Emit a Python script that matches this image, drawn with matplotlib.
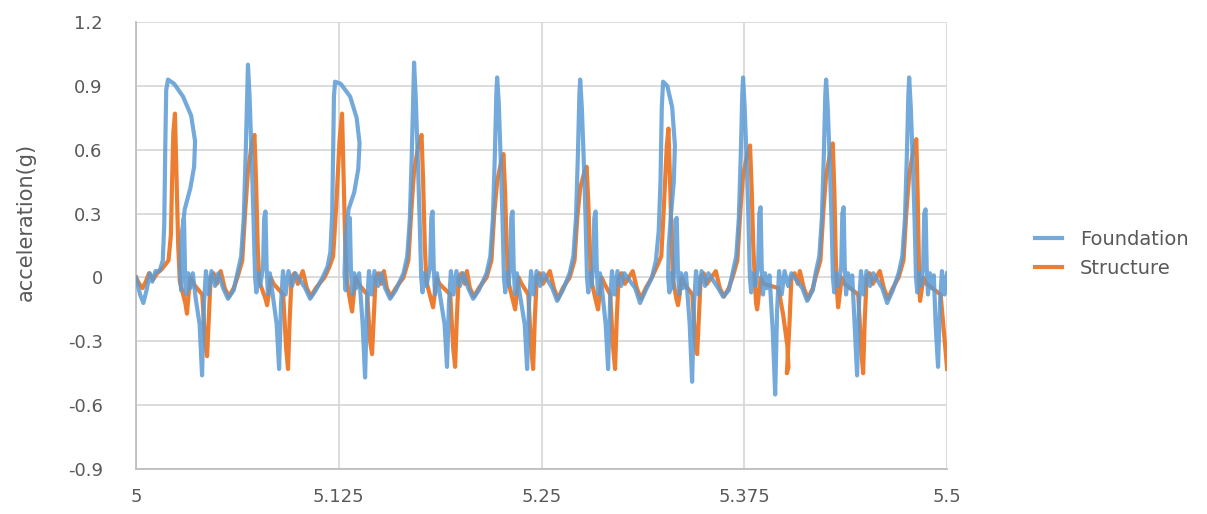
import matplotlib.pyplot as plt

# time (s), acceleration (g)
foundation = [
    (5.0000, 0.00), (5.0025, -0.08), (5.0045, -0.12), (5.0065, -0.06), (5.0085, 0.02), (5.0100, -0.02),
    (5.0120, 0.03), (5.0145, 0.03), (5.0165, 0.08), (5.0174, 0.25), (5.0180, 0.60), (5.0186, 0.88),
    (5.0197, 0.93), (5.0235, 0.91), (5.0290, 0.85), (5.0340, 0.76), (5.0364, 0.64), (5.0358, 0.52),
    (5.0335, 0.42), (5.0300, 0.32), (5.0280, 0.18), (5.0272, 0.02),
    (5.0278, -0.06), (5.0284, 0.05), (5.0290, 0.27), (5.0296, 0.27), (5.0302, 0.03), (5.0310, -0.08),
    (5.0322, 0.02), (5.0334, -0.05), (5.0350, 0.02), (5.0368, -0.10),
    (5.0392, -0.22), (5.0407, -0.46), (5.0419, -0.12), (5.0431, 0.03), (5.0447, -0.08), (5.0465, 0.03),
    (5.0487, -0.04), (5.0507, 0.02), (5.0537, -0.05), (5.0567, -0.10), (5.0602, -0.06),
    (5.0625, 0.02), (5.0648, 0.10), (5.0664, 0.28), (5.0676, 0.58), (5.0685, 0.86),
    (5.0690, 1.00), (5.0700, 0.85), (5.0712, 0.58), (5.0724, 0.28), (5.0734, 0.00), (5.0742, -0.07),
    (5.0752, 0.02), (5.0765, -0.04),
    (5.0783, 0.05), (5.0790, 0.28), (5.0798, 0.31), (5.0805, 0.05), (5.0813, -0.08), (5.0825, 0.02),
    (5.0837, -0.05),
    (5.0867, -0.22), (5.0882, -0.43), (5.0894, -0.12), (5.0906, 0.03), (5.0922, -0.08), (5.0940, 0.03),
    (5.0962, -0.04), (5.0982, 0.02), (5.1043, -0.05), (5.1073, -0.10), (5.1108, -0.06),
    (5.1150, 0.00), (5.1180, 0.05), (5.1198, 0.12), (5.1209, 0.30), (5.1215, 0.58), (5.1220, 0.85),
    (5.1227, 0.92), (5.1262, 0.91), (5.1320, 0.85), (5.1360, 0.75), (5.1378, 0.63), (5.1370, 0.51),
    (5.1345, 0.40), (5.1310, 0.32), (5.1292, 0.18), (5.1285, 0.02),
    (5.1292, -0.06), (5.1300, 0.05), (5.1310, 0.27), (5.1318, 0.28), (5.1325, 0.03), (5.1333, -0.08),
    (5.1345, 0.02), (5.1357, -0.05), (5.1375, 0.02),
    (5.1397, -0.22), (5.1412, -0.47), (5.1424, -0.12), (5.1436, 0.03), (5.1452, -0.08), (5.1470, 0.03),
    (5.1492, -0.04), (5.1512, 0.02), (5.1536, -0.05), (5.1566, -0.10), (5.1601, -0.06),
    (5.1649, 0.02), (5.1672, 0.10), (5.1688, 0.28), (5.1700, 0.58), (5.1709, 0.86),
    (5.1714, 1.01), (5.1724, 0.85), (5.1736, 0.58), (5.1748, 0.28), (5.1758, 0.00), (5.1766, -0.07),
    (5.1776, 0.02), (5.1790, -0.04),
    (5.1813, 0.05), (5.1820, 0.28), (5.1828, 0.31), (5.1835, 0.05), (5.1843, -0.08), (5.1855, 0.02),
    (5.1867, -0.05),
    (5.1902, -0.22), (5.1917, -0.42), (5.1929, -0.12), (5.1941, 0.03), (5.1957, -0.08), (5.1975, 0.03),
    (5.1997, -0.04), (5.2017, 0.02), (5.2048, -0.05), (5.2078, -0.10), (5.2113, -0.06),
    (5.2161, 0.02), (5.2184, 0.10), (5.2200, 0.28), (5.2212, 0.58), (5.2221, 0.86),
    (5.2226, 0.94), (5.2236, 0.82), (5.2248, 0.55), (5.2259, 0.28), (5.2268, 0.00), (5.2276, -0.07),
    (5.2286, 0.02), (5.2296, -0.04),
    (5.2306, 0.05), (5.2313, 0.28), (5.2321, 0.31), (5.2328, 0.05), (5.2336, -0.08), (5.2348, 0.02),
    (5.2360, -0.05),
    (5.2396, -0.22), (5.2411, -0.43), (5.2423, -0.12), (5.2435, 0.03), (5.2451, -0.08), (5.2469, 0.03),
    (5.2491, -0.04), (5.2511, 0.02), (5.2566, -0.05), (5.2596, -0.11), (5.2631, -0.06),
    (5.2673, 0.02), (5.2696, 0.10), (5.2712, 0.28), (5.2724, 0.58), (5.2733, 0.86),
    (5.2738, 0.93), (5.2748, 0.80), (5.2760, 0.55), (5.2771, 0.28), (5.2780, 0.00), (5.2788, -0.07),
    (5.2798, 0.02), (5.2808, -0.04),
    (5.2818, 0.05), (5.2825, 0.28), (5.2833, 0.31), (5.2840, 0.05), (5.2848, -0.08), (5.2860, 0.02),
    (5.2872, -0.05),
    (5.2895, -0.22), (5.2910, -0.43), (5.2922, -0.12), (5.2934, 0.03), (5.2950, -0.08), (5.2968, 0.03),
    (5.2990, -0.04), (5.3010, 0.02), (5.3077, -0.05), (5.3107, -0.12), (5.3142, -0.06),
    (5.3180, 0.00), (5.3205, 0.08), (5.3222, 0.22), (5.3233, 0.45), (5.3241, 0.80),
    (5.3249, 0.92), (5.3275, 0.90), (5.3305, 0.80), (5.3322, 0.62), (5.3315, 0.45), (5.3298, 0.30),
    (5.3284, 0.15), (5.3280, 0.00),
    (5.3288, -0.07), (5.3300, 0.02), (5.3310, -0.05), (5.3318, 0.05), (5.3325, 0.27), (5.3333, 0.28),
    (5.3340, 0.05), (5.3348, -0.08), (5.3360, 0.02), (5.3372, -0.05), (5.3390, 0.02),
    (5.3413, -0.22), (5.3428, -0.49), (5.3440, -0.12), (5.3452, 0.03), (5.3468, -0.08), (5.3486, 0.03),
    (5.3508, -0.04), (5.3528, 0.02), (5.3589, -0.05), (5.3619, -0.09), (5.3654, -0.06),
    (5.3677, 0.02), (5.3700, 0.10), (5.3716, 0.28), (5.3728, 0.58), (5.3737, 0.86),
    (5.3742, 0.94), (5.3752, 0.80), (5.3764, 0.55), (5.3775, 0.28), (5.3784, 0.00), (5.3792, -0.07),
    (5.3802, 0.02), (5.3818, -0.04),
    (5.3835, 0.05), (5.3842, 0.30), (5.3850, 0.33), (5.3857, 0.05), (5.3865, -0.08), (5.3877, 0.02),
    (5.3889, -0.05), (5.3905, 0.01),
    (5.3925, -0.25), (5.3940, -0.55), (5.3952, -0.15), (5.3964, 0.03), (5.3980, -0.08), (5.3998, 0.03),
    (5.4020, -0.04), (5.4040, 0.02), (5.4107, -0.05), (5.4137, -0.11), (5.4172, -0.06),
    (5.4189, 0.02), (5.4212, 0.10), (5.4228, 0.28), (5.4240, 0.58), (5.4249, 0.86),
    (5.4254, 0.93), (5.4264, 0.80), (5.4276, 0.55), (5.4287, 0.28), (5.4296, 0.00), (5.4304, -0.07),
    (5.4314, 0.02), (5.4330, -0.04),
    (5.4347, 0.05), (5.4354, 0.30), (5.4362, 0.33), (5.4369, 0.05), (5.4377, -0.08), (5.4389, 0.02),
    (5.4401, -0.05), (5.4415, 0.01),
    (5.4430, -0.22), (5.4445, -0.46), (5.4457, -0.12), (5.4469, 0.03), (5.4485, -0.08), (5.4503, 0.03),
    (5.4525, -0.04), (5.4545, 0.02), (5.4600, -0.05), (5.4630, -0.12), (5.4665, -0.06),
    (5.4701, 0.02), (5.4724, 0.10), (5.4740, 0.28), (5.4752, 0.58), (5.4761, 0.86),
    (5.4766, 0.94), (5.4776, 0.80), (5.4788, 0.55), (5.4799, 0.28), (5.4808, 0.00), (5.4816, -0.07),
    (5.4826, 0.02), (5.4840, -0.04),
    (5.4852, 0.05), (5.4859, 0.30), (5.4867, 0.32), (5.4874, 0.05), (5.4882, -0.08), (5.4894, 0.02),
    (5.4906, -0.05), (5.4918, 0.01),
    (5.4929, -0.22), (5.4944, -0.42), (5.4956, -0.12), (5.4968, 0.03), (5.4984, -0.08), (5.4992, -0.02),
    (5.5000, 0.02),
]

structure = [
    (5.0000, 0.00), (5.0020, -0.03), (5.0040, -0.05), (5.0060, -0.02), (5.0080, 0.02), (5.0105, -0.01),
    (5.0130, 0.02), (5.0160, 0.04), (5.0200, 0.08),
    (5.0215, 0.20), (5.0222, 0.45), (5.0230, 0.68), (5.0240, 0.77), (5.0250, 0.45), (5.0260, 0.15),
    (5.0270, -0.02), (5.0304, -0.12), (5.0314, -0.17), (5.0324, -0.08), (5.0336, 0.00), (5.0354, -0.03),
    (5.0408, -0.08), (5.0426, -0.30), (5.0438, -0.37), (5.0448, -0.20), (5.0460, 0.00), (5.0478, 0.02),
    (5.0498, -0.03), (5.0522, 0.03), (5.0547, -0.05), (5.0572, -0.09), (5.0602, -0.05), (5.0625, 0.00),
    (5.0655, 0.08),
    (5.0672, 0.30), (5.0690, 0.50), (5.0712, 0.62), (5.0730, 0.67), (5.0740, 0.45), (5.0750, 0.15),
    (5.0760, -0.02), (5.0798, -0.10), (5.0808, -0.13), (5.0818, -0.08), (5.0830, 0.00), (5.0848, -0.03),
    (5.0907, -0.08), (5.0925, -0.33), (5.0937, -0.43), (5.0947, -0.20), (5.0959, 0.00), (5.0977, 0.02),
    (5.0997, -0.03), (5.1028, 0.03), (5.1053, -0.05), (5.1078, -0.09), (5.1108, -0.05), (5.1162, 0.00),
    (5.1192, 0.05),
    (5.1215, 0.10), (5.1235, 0.35), (5.1255, 0.65), (5.1270, 0.77), (5.1280, 0.45), (5.1290, 0.15),
    (5.1300, -0.02), (5.1322, -0.12), (5.1332, -0.16), (5.1342, -0.08), (5.1354, 0.00), (5.1372, -0.03),
    (5.1425, -0.08), (5.1443, -0.30), (5.1455, -0.36), (5.1465, -0.20), (5.1477, 0.00), (5.1495, 0.02),
    (5.1512, -0.03), (5.1528, 0.03), (5.1546, -0.05), (5.1571, -0.09), (5.1601, -0.05), (5.1649, 0.00),
    (5.1679, 0.08),
    (5.1696, 0.30), (5.1714, 0.50), (5.1740, 0.62), (5.1760, 0.67), (5.1770, 0.45), (5.1780, 0.15),
    (5.1790, -0.02), (5.1821, -0.11), (5.1831, -0.14), (5.1841, -0.08), (5.1853, 0.00), (5.1871, -0.03),
    (5.1937, -0.08), (5.1955, -0.33), (5.1967, -0.42), (5.1977, -0.20), (5.1989, 0.00), (5.2007, 0.02),
    (5.2027, -0.03), (5.2040, 0.03), (5.2058, -0.05), (5.2083, -0.09), (5.2113, -0.05), (5.2161, 0.00),
    (5.2191, 0.08),
    (5.2208, 0.30), (5.2226, 0.45), (5.2250, 0.54), (5.2265, 0.58), (5.2275, 0.40), (5.2285, 0.15),
    (5.2295, -0.02), (5.2327, -0.12), (5.2337, -0.15), (5.2347, -0.08), (5.2359, 0.00), (5.2377, -0.03),
    (5.2418, -0.08), (5.2436, -0.33), (5.2448, -0.43), (5.2458, -0.20), (5.2470, 0.00), (5.2488, 0.02),
    (5.2508, -0.03), (5.2551, 0.03), (5.2576, -0.05), (5.2601, -0.10), (5.2631, -0.05), (5.2673, 0.00),
    (5.2703, 0.08),
    (5.2720, 0.28), (5.2738, 0.42), (5.2762, 0.49), (5.2778, 0.52), (5.2788, 0.35), (5.2798, 0.12),
    (5.2808, -0.02), (5.2838, -0.12), (5.2848, -0.15), (5.2858, -0.08), (5.2870, 0.00), (5.2888, -0.03),
    (5.2923, -0.08), (5.2941, -0.33), (5.2953, -0.43), (5.2963, -0.20), (5.2975, 0.00), (5.2993, 0.02),
    (5.3013, -0.03), (5.3062, 0.03), (5.3087, -0.05), (5.3112, -0.10), (5.3142, -0.05), (5.3180, 0.00),
    (5.3210, 0.05),
    (5.3238, 0.10), (5.3255, 0.35), (5.3272, 0.62), (5.3282, 0.70), (5.3292, 0.45), (5.3302, 0.15),
    (5.3312, -0.02), (5.3331, -0.10), (5.3341, -0.13), (5.3351, -0.08), (5.3363, 0.00), (5.3381, -0.03),
    (5.3429, -0.08), (5.3447, -0.30), (5.3459, -0.36), (5.3469, -0.20), (5.3481, 0.00), (5.3499, 0.02),
    (5.3519, -0.03), (5.3574, 0.03), (5.3599, -0.05), (5.3624, -0.09), (5.3654, -0.05), (5.3677, 0.00),
    (5.3707, 0.08),
    (5.3724, 0.30), (5.3742, 0.48), (5.3768, 0.58), (5.3785, 0.62), (5.3795, 0.42), (5.3805, 0.15),
    (5.3815, -0.02), (5.3822, -0.12), (5.3829, -0.15), (5.3839, -0.08), (5.3851, 0.00), (5.3869, -0.03),
    (5.3960, -0.05), (5.3990, -0.18), (5.4015, -0.32), (5.4022, -0.42), (5.4012, -0.45), (5.4028, -0.22),
    (5.4040, 0.00), (5.4060, 0.02), (5.4080, -0.03), (5.4092, 0.03), (5.4117, -0.05), (5.4142, -0.10),
    (5.4172, -0.05), (5.4189, 0.00), (5.4219, 0.08),
    (5.4236, 0.30), (5.4254, 0.48), (5.4280, 0.59), (5.4295, 0.63), (5.4305, 0.40), (5.4313, 0.12),
    (5.4320, -0.05), (5.4328, -0.14), (5.4338, -0.08), (5.4350, 0.00), (5.4368, -0.03),
    (5.4452, -0.08), (5.4470, -0.33), (5.4482, -0.45), (5.4492, -0.20), (5.4504, 0.00), (5.4522, 0.02),
    (5.4542, -0.03), (5.4585, 0.03), (5.4610, -0.05), (5.4635, -0.10), (5.4665, -0.05), (5.4701, 0.00),
    (5.4731, 0.08),
    (5.4748, 0.30), (5.4766, 0.48), (5.4794, 0.61), (5.4810, 0.65), (5.4818, 0.40), (5.4825, 0.12),
    (5.4829, -0.05), (5.4833, -0.11), (5.4843, -0.06), (5.4855, 0.00), (5.4873, -0.03),
    (5.4960, -0.08), (5.4985, -0.30), (5.5000, -0.43),
]

x_ticks = [5, 5.125, 5.25, 5.375, 5.5]
x_labels = ['5', '5.125', '5.25', '5.375', '5.5']
y_ticks = [-0.9, -0.6, -0.3, 0, 0.3, 0.6, 0.9, 1.2]
y_labels = ['-0.9', '-0.6', '-0.3', '0', '0.3', '0.6', '0.9', '1.2']

plt.rcParams['font.family'] = ['DejaVu Sans']
text_col = '#595959'
grid_col = '#d9d9d9'

fig = plt.figure(figsize=(12.07, 5.14), dpi=100)
ax = fig.add_axes([0.1127, 0.0875, 0.672, 0.8695])

ft, fa = zip(*foundation)
st, sa = zip(*structure)
ax.plot(st, sa, color='#ED7D31', lw=3.0, label='Structure', zorder=3, solid_joinstyle='round')
ax.plot(ft, fa, color='#5B9BD5', lw=3.0, alpha=0.85, label='Foundation', zorder=4,
        solid_joinstyle='round')

ax.set_xlim(5, 5.5)
ax.set_ylim(-0.9, 1.2)
ax.set_xticks(x_ticks)
ax.set_xticklabels(x_labels)
ax.set_yticks(y_ticks)
ax.set_yticklabels(y_labels)
ax.tick_params(length=0, labelsize=13, colors=text_col)
ax.tick_params(axis='y', pad=24)
ax.tick_params(axis='x', pad=14)
ax.grid(True, color=grid_col, lw=1.3)
ax.set_axisbelow(True)
for s in ['top', 'right']:
    ax.spines[s].set_visible(False)
for s in ['left', 'bottom']:
    ax.spines[s].set_color('#bfbfbf')
    ax.spines[s].set_linewidth(1.3)

fig.text(0.021, 1 - 222 / 514, 'acceleration(g)', rotation=90, ha='center', va='center',
         fontsize=15, color=text_col)

h, l = ax.get_legend_handles_labels()
fig.legend(h[::-1], l[::-1], loc='center left', bbox_to_anchor=(0.843, 0.506), frameon=False,
           fontsize=14, handlelength=1.4, handletextpad=0.9, labelspacing=0.48,
           labelcolor=text_col)

fig.savefig('out.png', dpi=100)
